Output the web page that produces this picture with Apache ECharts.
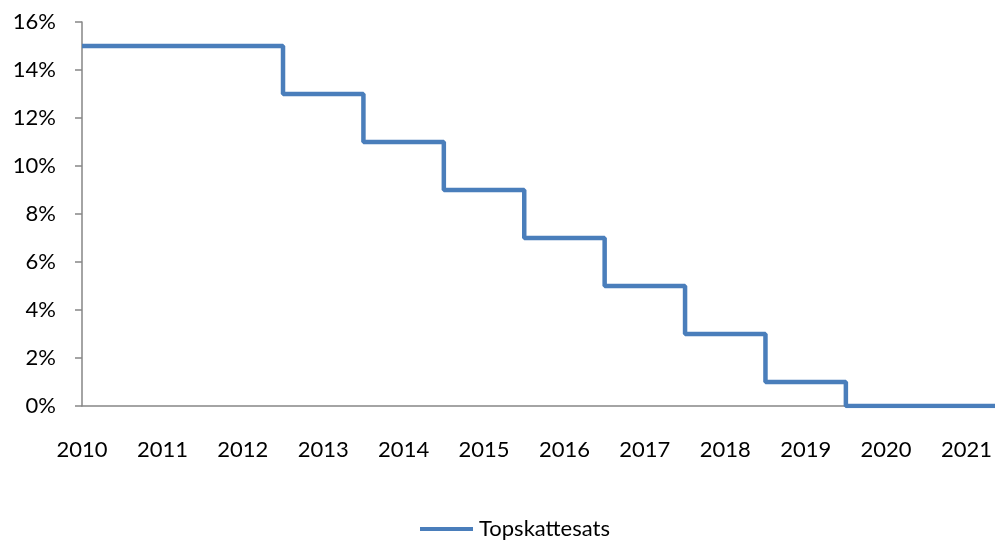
<!DOCTYPE html>
<html><head><meta charset="utf-8">
<script src="https://cdn.jsdelivr.net/npm/echarts@6/dist/echarts.min.js"></script>
<style>html,body{margin:0;padding:0;background:#fff}#c{width:995px;height:541px}</style>
</head><body><div id="c"></div>
<script>
const years = [2010,2011,2012,2013,2014,2015,2016,2017,2018,2019,2020,2021,2022];
const rates = [15,15,15,13,11,9,7,5,3,1,0,0,0];
const yTicks = [0,2,4,6,8,10,12,14,16];
const seriesName = 'Topskattesats';

const chart = echarts.init(document.getElementById('c'));
chart.setOption({
  animation:false,
  grid:{left:82,right:0,top:22,bottom:135,containLabel:false},
  legend:{top:513,left:415,data:[{name:seriesName,icon:'rect'}],itemWidth:53,itemHeight:4,itemGap:8,
    textStyle:{fontFamily:'Lato',fontSize:22,color:'#000',padding:[0,0,0,1]}},
  xAxis:{type:'value',min:2010,max:2021.34,interval:1,
    axisLine:{lineStyle:{color:'#868686',width:1.5}},axisTick:{show:false},splitLine:{show:false},
    axisLabel:{margin:33,fontFamily:'Lato',fontSize:22,color:'#000',showMaxLabel:false,
      formatter:v=>Number.isInteger(v)?String(v):''}},
  yAxis:{type:'value',min:0,max:16,interval:2,
    axisLine:{show:true,lineStyle:{color:'#868686',width:1.5}},
    axisTick:{show:true,length:7,lineStyle:{color:'#868686',width:1.5}},
    splitLine:{show:false},
    axisLabel:{margin:26,fontFamily:'Lato',fontSize:22,color:'#000',formatter:v=>v+'%'}},
  series:[{name:seriesName,type:'line',step:'middle',symbol:'none',clip:true,
    lineStyle:{color:'#4a7ebb',width:4.5},itemStyle:{color:'#4a7ebb'},
    data:years.map((y,i)=>[y,rates[i]])}]
});
</script></body></html>
